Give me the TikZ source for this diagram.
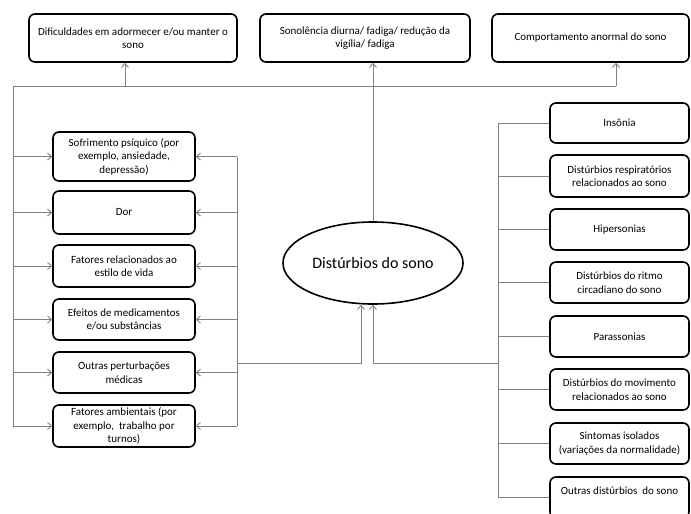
\documentclass[tikz,border=0pt]{standalone}
\usepackage{fontspec}
\setmainfont{Carlito}
\usetikzlibrary{arrows.meta,shapes.geometric,calc}
\begin{document}
\begin{tikzpicture}[x=1pt,y=-1pt,
  box/.style={draw=black,line width=1.6pt,rounded corners=6pt,align=center,inner sep=0pt,fill=white,font=\fontsize{11}{13.5}\selectfont},
  conn/.style={draw=black!50,line width=0.9pt},
  arr/.style={conn,-{Straight Barb[length=4pt,width=7pt]}}]
\useasboundingbox[fill=white] (0,0) rectangle (691,514);
% top boxes
\node[box,minimum width=208pt,minimum height=48pt] (d1) at (133,38) {Dificuldades em adormecer e/ou manter o\\sono};
\node[box,minimum width=210pt,minimum height=48pt] (d2) at (365,38) {Sonolência diurna/ fadiga/ redução da\\vigília/ fadiga};
\node[box,minimum width=197pt,minimum height=48pt] (d3) at (590.5,38) {Comportamento anormal do sono};
% left boxes
\node[box,minimum width=142pt,minimum height=49pt] (f1) at (124,156.5) {Sofrimento psíquico (por\\exemplo, ansiedade,\\depressão)};
\node[box,minimum width=142pt,minimum height=43pt] (f2) at (124,212.5) {Dor};
\node[box,minimum width=142pt,minimum height=42pt] (f3) at (124,266) {Fatores relacionados ao\\estilo de vida};
\node[box,minimum width=142pt,minimum height=41pt] (f4) at (124,319.5) {Efeitos de medicamentos\\e/ou substâncias};
\node[box,minimum width=142pt,minimum height=41pt] (f5) at (124,372.5) {Outras perturbações\\médicas};
\node[box,minimum width=142pt,minimum height=42pt] (f6) at (124,426) {Fatores ambientais (por\\exemplo,\ \ trabalho por\\turnos)};
% right boxes
\node[box,minimum width=139pt,minimum height=40pt] (r1) at (619.5,123) {Insônia};
\node[box,minimum width=139pt,minimum height=42pt] (r2) at (619.5,176) {Distúrbios respiratórios\\relacionados ao sono};
\node[box,minimum width=139pt,minimum height=41pt] (r3) at (619.5,229.5) {Hipersonias};
\node[box,minimum width=139pt,minimum height=41pt] (r4) at (619.5,282.5) {Distúrbios do ritmo\\circadiano do sono};
\node[box,minimum width=139pt,minimum height=41pt] (r5) at (619.5,336.5) {Parassonias};
\node[box,minimum width=139pt,minimum height=41pt] (r6) at (619.5,389.5) {Distúrbios do movimento\\relacionados ao sono};
\node[box,minimum width=139pt,minimum height=41pt] (r7) at (619.5,443.5) {Sintomas isolados\\(variações da normalidade)};
\node[box,minimum width=139pt,minimum height=41pt] (r8) at (619.5,497.5) {Outras distúrbios\ \ do sono\\[1pt]\mbox{}};
% ellipse
\node[ellipse,draw=black,line width=1.6pt,minimum width=180pt,minimum height=82pt,inner sep=0pt,font=\fontsize{16}{19}\selectfont] (ell) at (373,263) {Distúrbios do sono};
% connectors
\coordinate (lv) at (13,0);
\coordinate (tb) at (13,86);
\coordinate (tbR) at (616,86);
\coordinate (a1) at (125,86);
\draw[conn] (f6.west -| lv) -- (tb) -- (tbR);
\draw[arr] (a1) -- (a1 |- d1.south);
\draw[arr] (tbR) -- (tbR |- d3.south);
\draw[arr] (ell.north) -- (ell.north |- d2.south);
\foreach \n in {f1,f2,f3,f4,f5,f6} \draw[arr] (\n.west -| lv) -- (\n.west);
\coordinate (rv) at (237,0);
\draw[conn] (rv |- f1.east) -- (rv |- f6.east);
\foreach \n in {f1,f2,f3,f4,f5,f6} \draw[arr] (\n.east -| rv) -- (\n.east);
\coordinate (jl) at (237,363);
\coordinate (e1) at ($(ell.south)+(-12,0)$);
\draw[arr] (jl) -- (e1 |- jl) -- (e1);
\coordinate (rr) at (498,0);
\draw[conn] (rr |- r1.west) -- (rr |- r8.west);
\foreach \n in {r1,r2,r3,r4,r5,r6,r7,r8} \draw[conn] (\n.west -| rr) -- (\n.west);
\coordinate (jr) at (498,363);
\draw[arr] (jr) -- (ell.south |- jr) -- (ell.south);
\end{tikzpicture}
\end{document}
